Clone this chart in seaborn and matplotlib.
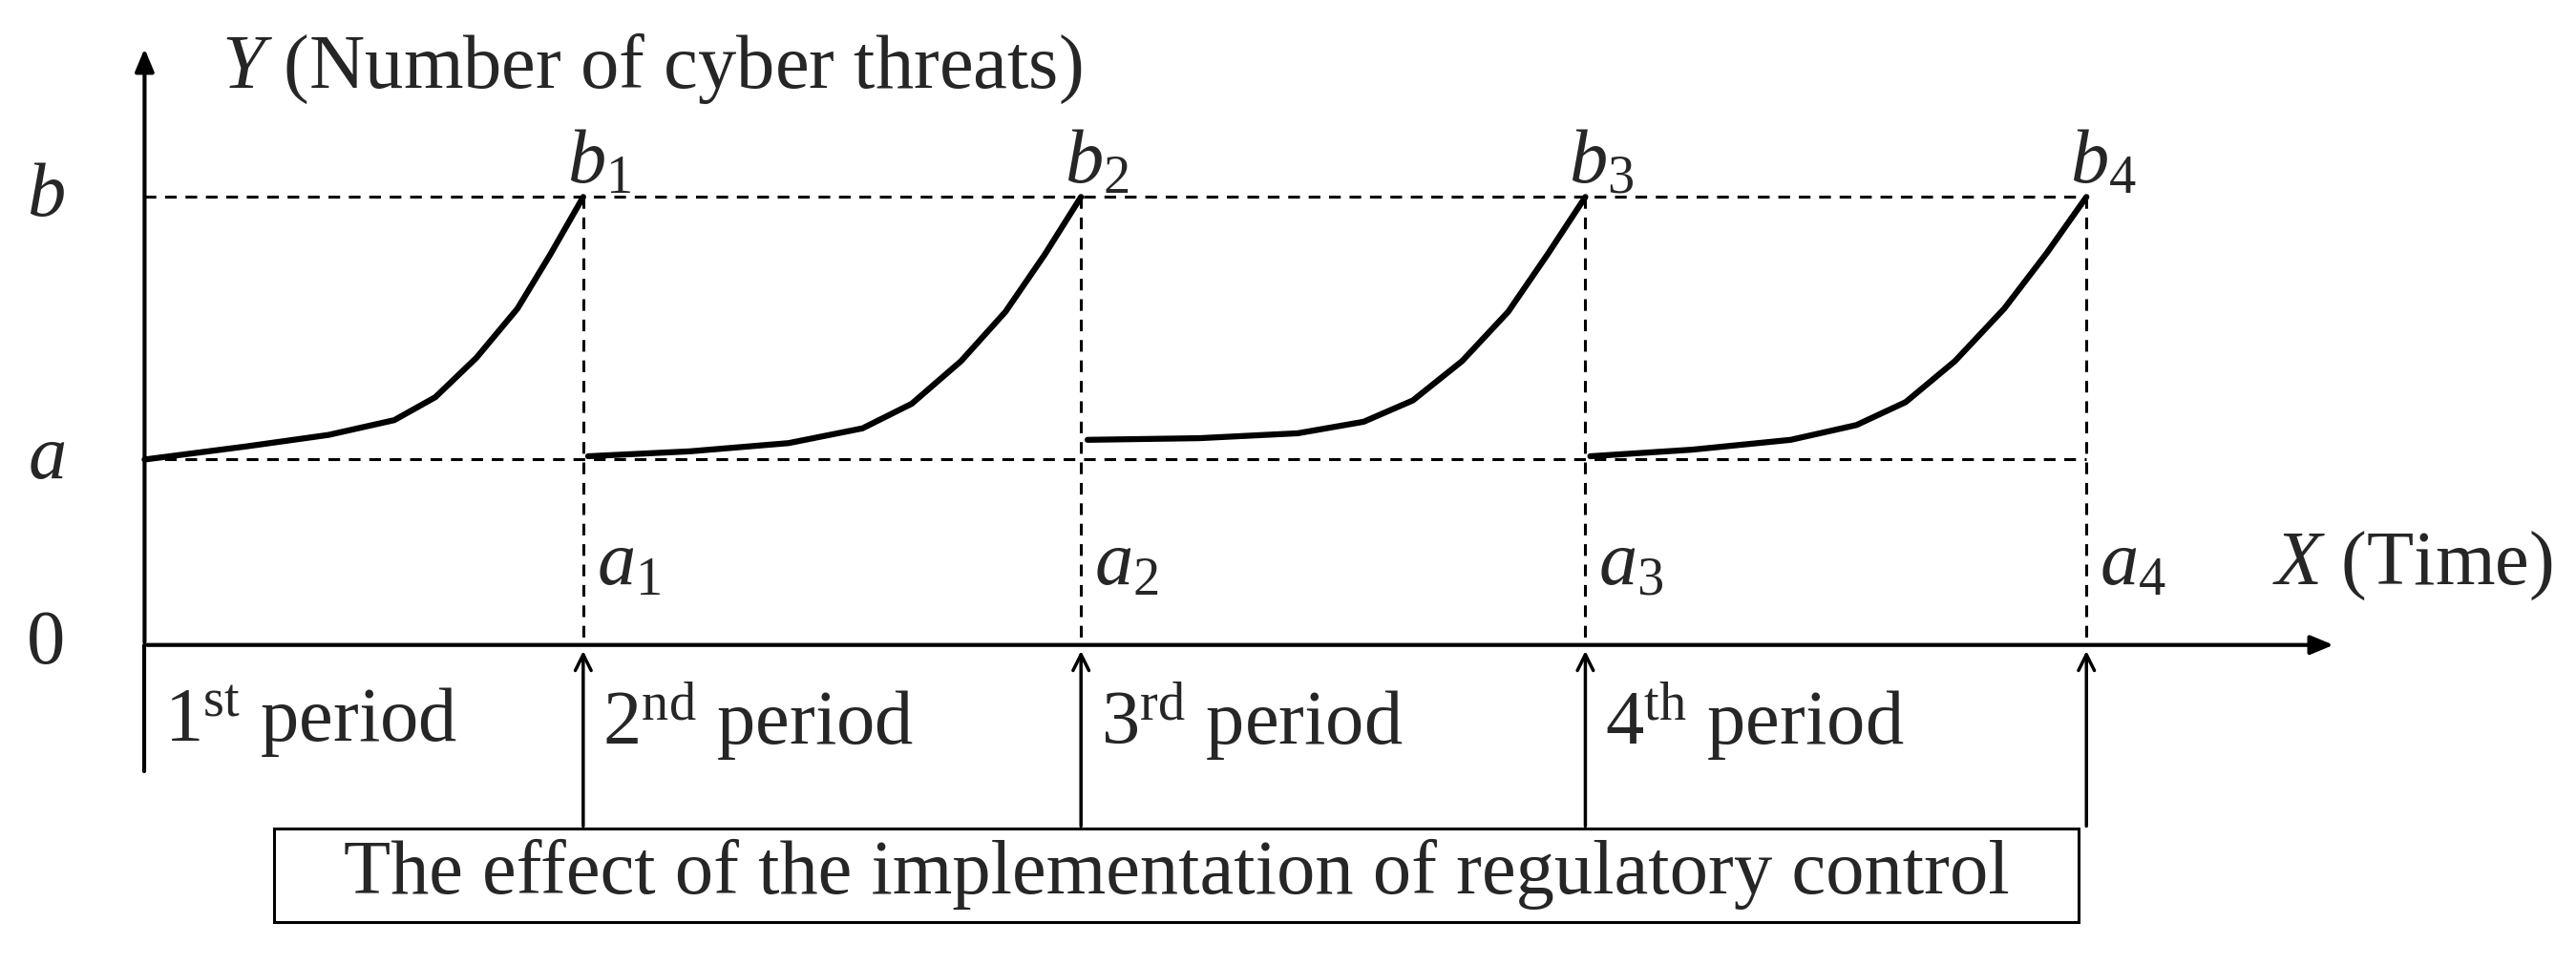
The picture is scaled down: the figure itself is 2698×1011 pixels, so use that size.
import numpy as np
import pandas as pd
import matplotlib.pyplot as plt
import seaborn as sns

# schematic in picture units (width 1568, height 588, y grows downward)
period_edges = [88, 355, 658, 965, 1270]
level_a = 280
level_b = 120

# curve shapes, one per period (x, y)
curve_x = [
    [88, 150, 200, 240, 265, 290, 315, 335, 355],
    [358, 420, 480, 525, 555, 585, 612, 636, 658],
    [662, 730, 790, 830, 860, 890, 918, 942, 965],
    [968, 1030, 1090, 1130, 1160, 1190, 1220, 1246, 1270],
]
curve_y = [
    [280, 272, 265, 256, 242, 218, 188, 155, 120],
    [278, 275, 270, 261, 246, 220, 190, 155, 120],
    [268, 267, 264, 257, 244, 220, 190, 155, 120],
    [278, 274, 268, 259, 245, 220, 188, 154, 120],
]
period_labels = ['1$^{\\mathrm{st}}$ period', '2$^{\\mathrm{nd}}$ period',
                 '3$^{\\mathrm{rd}}$ period', '4$^{\\mathrm{th}}$ period']

sns.set_theme(style='white')
plt.rcParams['font.family'] = ['Liberation Serif', 'DejaVu Serif']
plt.rcParams['mathtext.fontset'] = 'custom'
plt.rcParams['mathtext.rm'] = 'Liberation Serif'
plt.rcParams['mathtext.it'] = 'Liberation Serif:italic'

fig = plt.figure(figsize=(26.98, 10.11), dpi=100)
ax = fig.add_axes([0, 0, 1, 1])
ax.set_xlim(0, 1568)
ax.set_ylim(588, 0)
ax.axis('off')

x_axis = 393
fs = 58
frames = []
for i, (xs, ys) in enumerate(zip(curve_x, curve_y)):
    frames.append(pd.DataFrame({'x': xs, 'y': ys, 'p': i}))
df = pd.concat(frames)
sns.lineplot(data=df, x='x', y='y', units='p', estimator=None, color='black',
             lw=4.5, ax=ax, legend=False)

# dashed guides
dash = dict(color='black', lw=2.2, ls=(0, (4, 3)))
ax.plot([88, 1270], [level_b, level_b], **dash)
ax.plot([88, 1270], [level_a, level_a], **dash)
for xe in period_edges[1:]:
    ax.plot([xe, xe], [level_b, x_axis], **dash)

# axes with arrows
ax.annotate('', xy=(88, 28), xytext=(88, x_axis),
            arrowprops=dict(arrowstyle='-|>,head_width=0.5,head_length=1.2', lw=3, color='black'))
ax.annotate('', xy=(1422, x_axis), xytext=(88, x_axis),
            arrowprops=dict(arrowstyle='-|>,head_width=0.5,head_length=1.2', lw=3, color='black'))
ax.plot([88, 88], [x_axis, 470], color='black', lw=3)

# period labels and control arrows
for i, lab in enumerate(period_labels):
    ax.text(period_edges[i] + 12, 440, lab, fontsize=fs, va='center', ha='left')
    xe = period_edges[i + 1]
    ax.annotate('', xy=(xe, x_axis + 2), xytext=(xe, 505),
                arrowprops=dict(arrowstyle='->,head_width=0.5,head_length=1.0', lw=2.5, color='black'))
    ax.text(xe - 10, 100, '$b_{\\mathrm{%d}}$' % (i + 1), fontsize=fs, ha='left', va='center')
    ax.text(xe + 8, 345, '$a_{\\mathrm{%d}}$' % (i + 1), fontsize=fs, ha='left', va='center')

ax.add_patch(plt.Rectangle((167, 505), 1098, 57, fill=False, lw=2.2, ec='black'))
ax.text(716, 533, 'The effect of the implementation of regulatory control', fontsize=fs,
        ha='center', va='center')

ax.text(28, level_b, '$b$', fontsize=fs, ha='center', va='center')
ax.text(28, level_a, '$a$', fontsize=fs, ha='center', va='center')
ax.text(28, x_axis, '0', fontsize=fs, ha='center', va='center')
ax.text(135, 42, '$Y$ (Number of cyber threats)', fontsize=fs, ha='left', va='center')
ax.text(1383, 345, '$X$ (Time)', fontsize=fs, ha='left', va='center')

fig.savefig('out.png', dpi=100, facecolor='white')
